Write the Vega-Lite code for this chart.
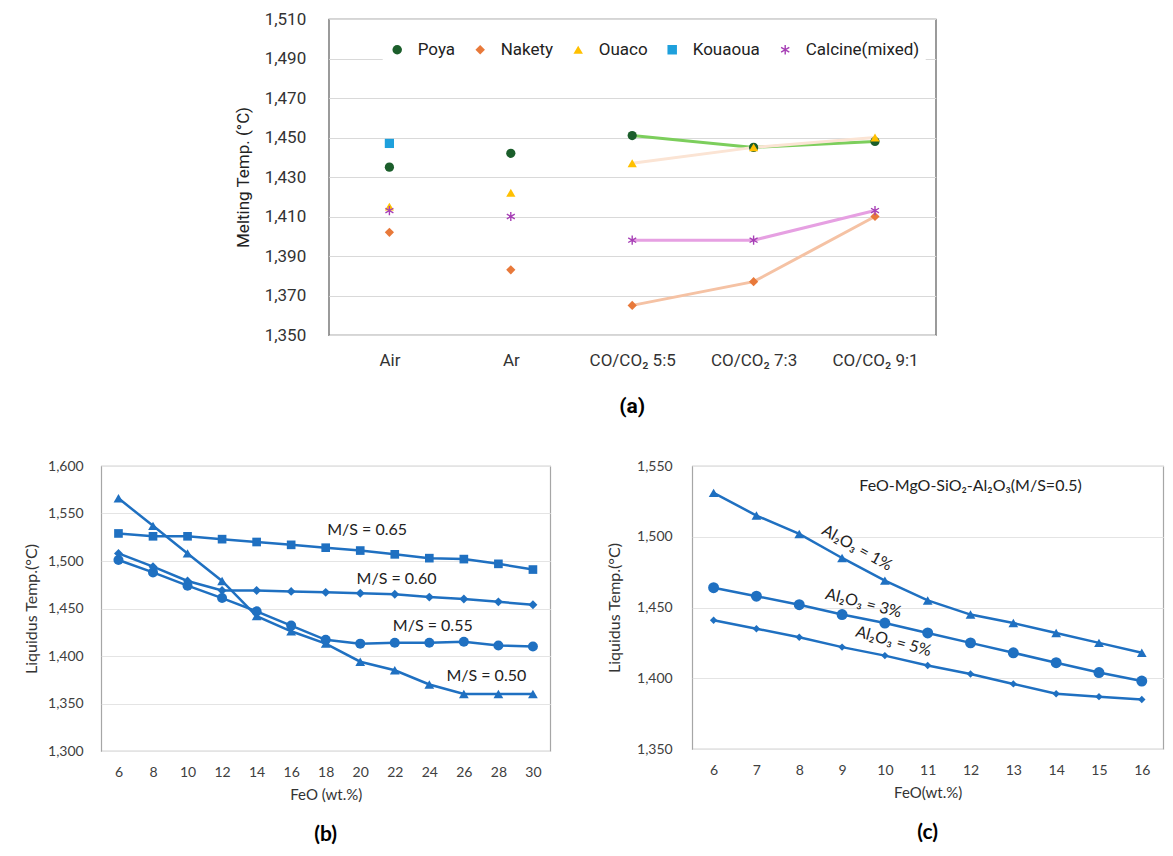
{
  "$schema": "https://vega.github.io/schema/vega-lite/v6.json",
  "background": "white",
  "padding": {"left": 22, "top": 9, "right": 5, "bottom": 5},
  "config": {
    "axis": {"titleFontWeight": "normal", "labelColor": "#404040", "titleColor": "#333333", "ticks": false, "domain": false},
    "title": {"color": "#000000"}
  },
  "center": true,
  "spacing": 40,
  "resolve": {"scale": {"color": "independent", "shape": "independent", "stroke": "independent"}},
  "vconcat": [
    {
      "width": 607,
      "height": 316,
      "view": {"stroke": "#595959", "strokeWidth": 1.2},
      "title": {"text": "(a)", "orient": "bottom", "frame": "group", "anchor": "middle", "fontSize": 21, "fontWeight": "bold", "font": "Roboto", "offset": 28},
      "data": {
        "values": [
          {"series": "Poya", "cond": "Air", "temp": 1435},
          {"series": "Nakety", "cond": "Air", "temp": 1402},
          {"series": "Ouaco", "cond": "Air", "temp": 1415},
          {"series": "Kouaoua", "cond": "Air", "temp": 1447},
          {"series": "Calcine(mixed)", "cond": "Air", "temp": 1413},
          {"series": "Poya", "cond": "Ar", "temp": 1442},
          {"series": "Nakety", "cond": "Ar", "temp": 1383},
          {"series": "Ouaco", "cond": "Ar", "temp": 1422},
          {"series": "Calcine(mixed)", "cond": "Ar", "temp": 1410},
          {"series": "Poya", "cond": "CO/CO₂ 5:5", "temp": 1451},
          {"series": "Nakety", "cond": "CO/CO₂ 5:5", "temp": 1365},
          {"series": "Ouaco", "cond": "CO/CO₂ 5:5", "temp": 1437},
          {"series": "Calcine(mixed)", "cond": "CO/CO₂ 5:5", "temp": 1398},
          {"series": "Poya", "cond": "CO/CO₂ 7:3", "temp": 1445},
          {"series": "Nakety", "cond": "CO/CO₂ 7:3", "temp": 1377},
          {"series": "Ouaco", "cond": "CO/CO₂ 7:3", "temp": 1445},
          {"series": "Calcine(mixed)", "cond": "CO/CO₂ 7:3", "temp": 1398},
          {"series": "Poya", "cond": "CO/CO₂ 9:1", "temp": 1448},
          {"series": "Nakety", "cond": "CO/CO₂ 9:1", "temp": 1410},
          {"series": "Ouaco", "cond": "CO/CO₂ 9:1", "temp": 1450},
          {"series": "Calcine(mixed)", "cond": "CO/CO₂ 9:1", "temp": 1413}
        ]
      },
      "encoding": {
        "x": {
          "field": "cond", "type": "nominal",
          "sort": ["Air", "Ar", "CO/CO₂ 5:5", "CO/CO₂ 7:3", "CO/CO₂ 9:1"],
          "axis": {"title": null, "labelAngle": 0, "labelFontSize": 17, "labelFont": "Roboto", "labelPadding": 17, "labelColor": "#333333"}
        },
        "y": {
          "field": "temp", "type": "quantitative",
          "scale": {"domain": [1350, 1510], "nice": false, "zero": false},
          "axis": {
            "values": [1350, 1370, 1390, 1410, 1430, 1450, 1470, 1490, 1510],
            "format": ",d", "grid": true, "gridColor": "#d9d9d9", "gridWidth": 1.2,
            "labelFontSize": 17, "labelFont": "Roboto", "labelPadding": 23, "labelColor": "#333333",
            "title": "Melting Temp. (°C)", "titleFontSize": 17, "titleFont": "Roboto", "titlePadding": 12, "titleColor": "#222222"
          }
        }
      },
      "layer": [
        {
          "transform": [{"filter": {"field": "cond", "oneOf": ["CO/CO₂ 5:5", "CO/CO₂ 7:3", "CO/CO₂ 9:1"]}}],
          "mark": {"type": "line", "strokeWidth": 3},
          "encoding": {
            "stroke": {
              "field": "series", "type": "nominal",
              "scale": {"domain": ["Poya", "Nakety", "Ouaco", "Calcine(mixed)"], "range": ["#7cce5c", "#f5c2a4", "#fbe4d4", "#e6a0e2"]},
              "legend": null
            }
          }
        },
        {
          "mark": {"type": "point", "filled": true, "size": 85, "opacity": 1},
          "encoding": {
            "color": {
              "field": "series", "type": "nominal",
              "scale": {"domain": ["Poya", "Nakety", "Ouaco", "Kouaoua", "Calcine(mixed)"], "range": ["#1b5e2b", "#e8793a", "#ffc000", "#1ea0dc", "#a63fb5"]},
              "legend": {
                "title": null, "orient": "none", "legendX": 54, "legendY": 16, "direction": "horizontal", "columns": 5,
                "fillColor": "white", "padding": 6, "labelFontSize": 17, "labelFont": "Roboto", "labelColor": "#222222",
                "symbolSize": 90, "columnPadding": 16, "labelOffset": 12
              }
            },
            "shape": {
              "field": "series", "type": "nominal",
              "scale": {"domain": ["Poya", "Nakety", "Ouaco", "Kouaoua", "Calcine(mixed)"], "range": ["circle", "diamond", "triangle-up", "square", "M-0.15,-1L0.15,-1L0.15,1L-0.15,1ZM-0.941,-0.370L-0.791,-0.630L0.941,0.370L0.791,0.630ZM0.791,-0.630L0.941,-0.370L-0.791,0.630L-0.941,0.370Z"]},
              "legend": {
                "title": null, "orient": "none", "legendX": 54, "legendY": 16, "direction": "horizontal", "columns": 5,
                "fillColor": "white", "padding": 6, "labelFontSize": 17, "labelFont": "Roboto", "labelColor": "#222222",
                "symbolSize": 90, "columnPadding": 16, "labelOffset": 12
              }
            }
          }
        }
      ]
    },
    {
      "spacing": 54,
      "hconcat": [
        {
          "width": 449,
          "height": 285,
          "view": {"stroke": "#a6a6a6", "strokeWidth": 1.2},
          "title": {"text": "(b)", "orient": "bottom", "anchor": "middle", "fontSize": 21, "fontWeight": "bold", "font": "Lato", "offset": 22},
          "encoding": {
            "x": {
              "field": "feo", "type": "quantitative",
              "scale": {"domain": [5, 31], "nice": false, "zero": false},
              "axis": {"values": [6, 8, 10, 12, 14, 16, 18, 20, 22, 24, 26, 28, 30], "labelOverlap": false, "labelSeparation": 0, "grid": false, "labelFontSize": 14, "labelFont": "Lato", "labelPadding": 14, "title": "FeO (wt.%)", "titleFontSize": 15, "titleFont": "Lato", "titlePadding": 8}
            },
            "y": {
              "field": "temp", "type": "quantitative",
              "scale": {"domain": [1300, 1600], "nice": false, "zero": false},
              "axis": {"values": [1300, 1350, 1400, 1450, 1500, 1550, 1600], "format": ",d", "grid": true, "gridColor": "#e4e4e4", "labelFontSize": 14, "labelFont": "Lato", "labelPadding": 18, "title": "Liquidus Temp.(°C)", "titleFontSize": 16, "titleFont": "Lato", "titlePadding": 8}
            }
          },
          "layer": [
            {
              "data": {
                "name": "bdata",
                "values": [
                  {"ms": "0.50", "feo": 6, "temp": 1566}, {"ms": "0.50", "feo": 8, "temp": 1537}, {"ms": "0.50", "feo": 10, "temp": 1508},
                  {"ms": "0.50", "feo": 12, "temp": 1479}, {"ms": "0.50", "feo": 14, "temp": 1442}, {"ms": "0.50", "feo": 16, "temp": 1426},
                  {"ms": "0.50", "feo": 18, "temp": 1413}, {"ms": "0.50", "feo": 20, "temp": 1394}, {"ms": "0.50", "feo": 22, "temp": 1385},
                  {"ms": "0.50", "feo": 24, "temp": 1370}, {"ms": "0.50", "feo": 26, "temp": 1360}, {"ms": "0.50", "feo": 28, "temp": 1360},
                  {"ms": "0.50", "feo": 30, "temp": 1360},
                  {"ms": "0.55", "feo": 6, "temp": 1501}, {"ms": "0.55", "feo": 8, "temp": 1488}, {"ms": "0.55", "feo": 10, "temp": 1474},
                  {"ms": "0.55", "feo": 12, "temp": 1461}, {"ms": "0.55", "feo": 14, "temp": 1447}, {"ms": "0.55", "feo": 16, "temp": 1432},
                  {"ms": "0.55", "feo": 18, "temp": 1417}, {"ms": "0.55", "feo": 20, "temp": 1413}, {"ms": "0.55", "feo": 22, "temp": 1414},
                  {"ms": "0.55", "feo": 24, "temp": 1414}, {"ms": "0.55", "feo": 26, "temp": 1415}, {"ms": "0.55", "feo": 28, "temp": 1411},
                  {"ms": "0.55", "feo": 30, "temp": 1410},
                  {"ms": "0.60", "feo": 6, "temp": 1508}, {"ms": "0.60", "feo": 8, "temp": 1494}, {"ms": "0.60", "feo": 10, "temp": 1479},
                  {"ms": "0.60", "feo": 12, "temp": 1469}, {"ms": "0.60", "feo": 14, "temp": 1469}, {"ms": "0.60", "feo": 16, "temp": 1468},
                  {"ms": "0.60", "feo": 18, "temp": 1467}, {"ms": "0.60", "feo": 20, "temp": 1466}, {"ms": "0.60", "feo": 22, "temp": 1465},
                  {"ms": "0.60", "feo": 24, "temp": 1462}, {"ms": "0.60", "feo": 26, "temp": 1460}, {"ms": "0.60", "feo": 28, "temp": 1457},
                  {"ms": "0.60", "feo": 30, "temp": 1454},
                  {"ms": "0.65", "feo": 6, "temp": 1529}, {"ms": "0.65", "feo": 8, "temp": 1526}, {"ms": "0.65", "feo": 10, "temp": 1526},
                  {"ms": "0.65", "feo": 12, "temp": 1523}, {"ms": "0.65", "feo": 14, "temp": 1520}, {"ms": "0.65", "feo": 16, "temp": 1517},
                  {"ms": "0.65", "feo": 18, "temp": 1514}, {"ms": "0.65", "feo": 20, "temp": 1511}, {"ms": "0.65", "feo": 22, "temp": 1507},
                  {"ms": "0.65", "feo": 24, "temp": 1503}, {"ms": "0.65", "feo": 26, "temp": 1502}, {"ms": "0.65", "feo": 28, "temp": 1497},
                  {"ms": "0.65", "feo": 30, "temp": 1491}
                ]
              },
              "mark": {"type": "line", "color": "#1f70c1", "strokeWidth": 2.5},
              "encoding": {"detail": {"field": "ms", "type": "nominal"}}
            },
            {
              "data": {"name": "bdata"},
              "transform": [{"filter": {"field": "ms", "equal": "0.50"}}],
              "mark": {"type": "point", "filled": true, "color": "#1f70c1", "size": 95, "opacity": 1, "shape": "triangle-up"}
            },
            {
              "data": {"name": "bdata"},
              "transform": [{"filter": {"field": "ms", "equal": "0.55"}}],
              "mark": {"type": "point", "filled": true, "color": "#1f70c1", "size": 100, "opacity": 1, "shape": "circle"}
            },
            {
              "data": {"name": "bdata"},
              "transform": [{"filter": {"field": "ms", "equal": "0.60"}}],
              "mark": {"type": "point", "filled": true, "color": "#1f70c1", "size": 80, "opacity": 1, "shape": "diamond"}
            },
            {
              "data": {"name": "bdata"},
              "transform": [{"filter": {"field": "ms", "equal": "0.65"}}],
              "mark": {"type": "point", "filled": true, "color": "#1f70c1", "size": 75, "opacity": 1, "shape": "square"}
            },
            {
              "data": {
                "values": [
                  {"feo": 20.4, "temp": 1533, "label": "M/S = 0.65"},
                  {"feo": 22.1, "temp": 1481, "label": "M/S = 0.60"},
                  {"feo": 24.2, "temp": 1432, "label": "M/S = 0.55"},
                  {"feo": 27.3, "temp": 1379, "label": "M/S = 0.50"}
                ]
              },
              "mark": {"type": "text", "font": "Lato", "fontSize": 16, "color": "#222222"},
              "encoding": {"text": {"field": "label"}}
            }
          ]
        },
        {
          "width": 471,
          "height": 283,
          "view": {"stroke": "#a6a6a6", "strokeWidth": 1.2},
          "title": {"text": "(c)", "orient": "bottom", "anchor": "middle", "fontSize": 21, "fontWeight": "bold", "font": "Lato", "offset": 22},
          "encoding": {
            "x": {
              "field": "feo", "type": "quantitative",
              "scale": {"domain": [5.5, 16.5], "nice": false, "zero": false},
              "axis": {"values": [6, 7, 8, 9, 10, 11, 12, 13, 14, 15, 16], "labelOverlap": false, "grid": false, "labelFontSize": 14, "labelFont": "Lato", "labelPadding": 14, "title": "FeO(wt.%)", "titleFontSize": 15, "titleFont": "Lato", "titlePadding": 8}
            },
            "y": {
              "field": "temp", "type": "quantitative",
              "scale": {"domain": [1350, 1550], "nice": false, "zero": false},
              "axis": {"values": [1350, 1400, 1450, 1500, 1550], "format": ",d", "grid": true, "gridColor": "#e4e4e4", "labelFontSize": 14, "labelFont": "Lato", "labelPadding": 20, "title": "Liquidus Temp.(°C)", "titleFontSize": 16, "titleFont": "Lato", "titlePadding": 14}
            }
          },
          "layer": [
            {
              "data": {
                "name": "cdata",
                "values": [
                  {"al": "1%", "feo": 6, "temp": 1531}, {"al": "1%", "feo": 7, "temp": 1515}, {"al": "1%", "feo": 8, "temp": 1502},
                  {"al": "1%", "feo": 9, "temp": 1485}, {"al": "1%", "feo": 10, "temp": 1469}, {"al": "1%", "feo": 11, "temp": 1455},
                  {"al": "1%", "feo": 12, "temp": 1445}, {"al": "1%", "feo": 13, "temp": 1439}, {"al": "1%", "feo": 14, "temp": 1432},
                  {"al": "1%", "feo": 15, "temp": 1425}, {"al": "1%", "feo": 16, "temp": 1418},
                  {"al": "3%", "feo": 6, "temp": 1464}, {"al": "3%", "feo": 7, "temp": 1458}, {"al": "3%", "feo": 8, "temp": 1452},
                  {"al": "3%", "feo": 9, "temp": 1445}, {"al": "3%", "feo": 10, "temp": 1439}, {"al": "3%", "feo": 11, "temp": 1432},
                  {"al": "3%", "feo": 12, "temp": 1425}, {"al": "3%", "feo": 13, "temp": 1418}, {"al": "3%", "feo": 14, "temp": 1411},
                  {"al": "3%", "feo": 15, "temp": 1404}, {"al": "3%", "feo": 16, "temp": 1398},
                  {"al": "5%", "feo": 6, "temp": 1441}, {"al": "5%", "feo": 7, "temp": 1435}, {"al": "5%", "feo": 8, "temp": 1429},
                  {"al": "5%", "feo": 9, "temp": 1422}, {"al": "5%", "feo": 10, "temp": 1416}, {"al": "5%", "feo": 11, "temp": 1409},
                  {"al": "5%", "feo": 12, "temp": 1403}, {"al": "5%", "feo": 13, "temp": 1396}, {"al": "5%", "feo": 14, "temp": 1389},
                  {"al": "5%", "feo": 15, "temp": 1387}, {"al": "5%", "feo": 16, "temp": 1385}
                ]
              },
              "mark": {"type": "line", "color": "#1f70c1", "strokeWidth": 2.5},
              "encoding": {"detail": {"field": "al", "type": "nominal"}}
            },
            {
              "data": {"name": "cdata"},
              "transform": [{"filter": {"field": "al", "equal": "1%"}}],
              "mark": {"type": "point", "filled": true, "color": "#1f70c1", "size": 95, "opacity": 1, "shape": "triangle-up"}
            },
            {
              "data": {"name": "cdata"},
              "transform": [{"filter": {"field": "al", "equal": "3%"}}],
              "mark": {"type": "point", "filled": true, "color": "#1f70c1", "size": 120, "opacity": 1, "shape": "circle"}
            },
            {
              "data": {"name": "cdata"},
              "transform": [{"filter": {"field": "al", "equal": "5%"}}],
              "mark": {"type": "point", "filled": true, "color": "#1f70c1", "size": 55, "opacity": 1, "shape": "diamond"}
            },
            {
              "data": {
                "values": [
                  {"feo": 12.0, "temp": 1536, "label": "FeO-MgO-SiO₂-Al₂O₃(M/S=0.5)", "ang": 0},
                  {"feo": 9.35, "temp": 1492, "label": "Al₂O₃ = 1%", "ang": 29},
                  {"feo": 9.5, "temp": 1453, "label": "Al₂O₃ = 3%", "ang": 14},
                  {"feo": 10.2, "temp": 1426, "label": "Al₂O₃ = 5%", "ang": 15}
                ]
              },
              "mark": {"type": "text", "font": "Lato", "fontSize": 16, "color": "#222222"},
              "encoding": {
                "text": {"field": "label"},
                "angle": {"field": "ang", "type": "quantitative", "scale": null}
              }
            }
          ]
        }
      ]
    }
  ]
}
